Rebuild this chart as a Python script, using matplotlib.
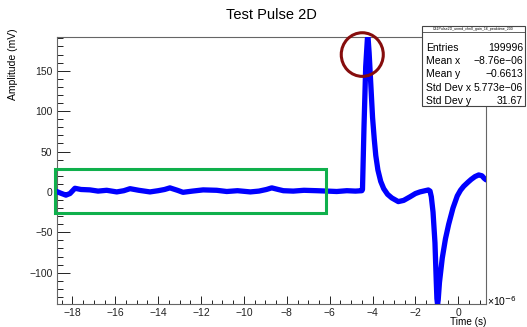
"""Test Pulse 2D waveform, ROOT-style look."""
import matplotlib
matplotlib.use("Agg")
import matplotlib.pyplot as plt
from matplotlib.patches import Rectangle, Ellipse
from matplotlib.lines import Line2D
from matplotlib.ticker import MultipleLocator

plt.rcParams["font.family"] = ["Liberation Sans", "DejaVu Sans"]

# ── Waveform (time in µs, amplitude in mV) ───────────────────────────────────
T_US = [-18.80, -18.73, -18.55, -18.30, -18.11, -17.88, -17.60, -17.18, -16.80,
        -16.40, -15.93, -15.60, -15.31, -14.90, -14.38, -14.00, -13.70, -13.45,
        -13.10, -12.84, -12.40, -11.90, -11.27, -10.80, -10.30, -9.70, -9.30,
        -8.95, -8.70, -8.40, -8.16, -7.70, -7.20, -6.60, -6.10, -5.67, -5.20,
        -4.80, -4.50, -4.47, -4.40, -4.32, -4.24, -4.21, -4.16, -4.08, -4.00,
        -3.92, -3.85, -3.75, -3.62, -3.48, -3.30, -3.10, -2.80, -2.55,
        -2.25, -2.00, -1.79, -1.55, -1.40, -1.32, -1.26, -1.18, -1.09, -1.03,
        -1.00, -0.97, -0.94, -0.88, -0.75, -0.60, -0.45, -0.25, -0.05, 0.10, 0.25,
        0.45, 0.60, 0.78, 0.95, 1.10, 1.20, 1.29]
AMP_MV = [0.0, 0.5, -1.5, -4.0, -2.0, 4.5, 3.0, 2.5, 1.0,
          2.0, 0.0, 1.5, 4.0, 2.0, 0.0, 1.5, 3.0, 5.0,
          2.0, -0.5, 1.0, 2.5, 2.0, 0.5, 1.5, 0.0, 1.0,
          3.0, 5.0, 3.0, 1.5, 1.0, 2.0, 1.5, 1.0, 0.5, 1.5,
          1.0, 1.5, 3.0, 80.0, 155.0, 190.0, 191.0, 172.0, 132.0, 92.0,
          65.0, 45.0, 27.0, 13.0, 4.0, -3.0, -7.5, -12.0, -10.5,
          -6.0, -2.0, 0.0, 1.5, 2.4, 1.0, -6.0, -25.0, -63.0, -110.0,
          -132.0, -139.0, -134.0, -112.0, -82.0, -58.0, -40.0, -20.0, -5.0, 2.0, 7.0,
          12.0, 15.5, 19.0, 21.0, 20.0, 17.0, 15.0]

# stat box contents
STAT_TITLE = "C41Pulse2D_unmd_chn0_gain_16_peaktime_200"
STAT_NAMES = ["Entries", "Mean x", "Mean y", "Std Dev x", "Std Dev y"]
STAT_VALUES = ["199996", "\u22128.76e\u221206", "\u22120.6613", "5.773e\u221206", "31.67"]

# annotation regions (µs, mV)
BOX_X = (-18.80, -6.17)
BOX_Y = (-26.5, 28.3)
CIRCLE_XY = (-4.48, 170.0)
CIRCLE_WH = (1.96, 54.0)

W, H = 527, 327


def fx(px):
    return px / W


def fy(py):
    return 1 - py / H


fig = plt.figure(figsize=(5.27, 3.27), dpi=100)
ax = fig.add_axes([fx(56.7), fy(304.3), fx(486) - fx(56.7), fy(36.7) - fy(304.3)])

ax.plot(T_US, AMP_MV, color="#0000ff", lw=3.8, solid_joinstyle="round",
        solid_capstyle="round", zorder=3)

ax.add_patch(Rectangle((BOX_X[0], BOX_Y[0]), BOX_X[1] - BOX_X[0], BOX_Y[1] - BOX_Y[0],
                       fill=False, ec="#10b04c", lw=2.2, zorder=4, clip_on=False))
ax.add_patch(Ellipse(CIRCLE_XY, CIRCLE_WH[0], CIRCLE_WH[1], fill=False,
                     ec="#860d0d", lw=2.2, zorder=4, clip_on=False))

ax.set_xlim(-18.73, 1.29)
ax.set_ylim(-139.1, 192.1)
ax.xaxis.set_major_locator(MultipleLocator(2))
ax.xaxis.set_minor_locator(MultipleLocator(0.5))
ax.yaxis.set_major_locator(MultipleLocator(50))
ax.yaxis.set_minor_locator(MultipleLocator(10))
ax.tick_params(axis="both", which="both", direction="in", labelsize=7.5,
               colors="#222222", width=0.7, top=False, right=False)
ax.tick_params(axis="y", which="major", length=9.4, pad=3)
ax.tick_params(axis="y", which="minor", length=4.5)
ax.tick_params(axis="x", which="major", length=5.5, pad=3)
ax.tick_params(axis="x", which="minor", length=2.9)
for s in ax.spines.values():
    s.set_color("#666666")
    s.set_linewidth(0.8)

fig.text(fx(271), fy(15), "Test Pulse 2D", ha="center", va="center", fontsize=10.5)
fig.text(fx(13), fy(28), "Amplitude (mV)", rotation=90, ha="center", va="top", fontsize=7.5)
fig.text(fx(486), fy(327), "Time (s)", ha="right", va="bottom", fontsize=7.2)
fig.text(fx(487), fy(301), "\u00d710$^{\u22126}$", ha="left", va="center", fontsize=7.5)

# stat box
fig.add_artist(Rectangle((fx(422), fy(106)), fx(525) - fx(422), fy(26) - fy(106),
                         transform=fig.transFigure, fc="white", ec="#444444", lw=0.8, zorder=10))
fig.add_artist(Line2D([fx(422), fx(525)], [fy(32), fy(32)], transform=fig.transFigure,
                      color="#444444", lw=0.6, zorder=11))
fig.text(fx(473.5), fy(29), STAT_TITLE, ha="center", va="center", fontsize=2.6, zorder=12)
for i, (name, val) in enumerate(zip(STAT_NAMES, STAT_VALUES)):
    yy = fy(47.7 + i * 13.3)
    fig.text(fx(426), yy, name, ha="left", va="center", fontsize=7.5, zorder=12)
    fig.text(fx(523), yy, val, ha="right", va="center", fontsize=7.5, zorder=12)

fig.savefig("out.png", dpi=100)
plt.close(fig)
